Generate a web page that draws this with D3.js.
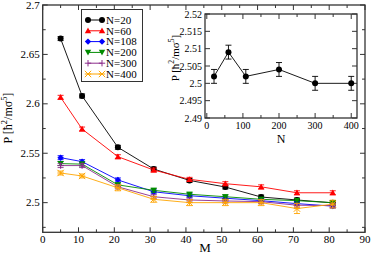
<!doctype html>
<html>
<head>
<meta charset="utf-8"/>
<title>P vs M</title>
<script src="https://d3js.org/d3.v7.min.js"></script>
<style>
body{margin:0;background:#fff;}
text{font-family:"Liberation Serif","DejaVu Serif",serif;}
</style>
</head>
<body>
<script>
// data
var mVals = [5, 11, 21, 31, 41, 51, 61, 71, 81];
var n20  = [2.666, 2.608, 2.556, 2.534, 2.5225, 2.5158, 2.5057, 2.5027, 2.4998];
var n60  = [2.6066, 2.5745, 2.5465, 2.5330, 2.5236, 2.5192, 2.5160, 2.5100, 2.5100];
var n108 = [2.5455, 2.5415, 2.5230, 2.5110, 2.5070, 2.5045, 2.5020, 2.4990, 2.4965];
var n200 = [2.5395, 2.5390, 2.5180, 2.5125, 2.5085, 2.5060, 2.5034, 2.5020, 2.5000];
var n300 = [2.5375, 2.5375, 2.5160, 2.5060, 2.5027, 2.5017, 2.5010, 2.4974, 2.4970];
var n400 = [2.5300, 2.5270, 2.5150, 2.5034, 2.5000, 2.5000, 2.5000, 2.4940, 2.4985];
var errMain = [0.002, 0.002, 0.002, 0.002, 0.002, 0.002, 0.002, 0.002, 0.002];
var err400  = [0.002, 0.002, 0.003, 0.003, 0.003, 0.003, 0.003, 0.005, 0.004];

var nVals  = [20, 60, 108, 200, 300, 400];
var pInset = [2.502, 2.509, 2.502, 2.504, 2.500, 2.500];
var errInset = [0.002, 0.002, 0.002, 0.002, 0.002, 0.002];

var series = [
  {name: "N=20",  vals: n20,  err: errMain, color: "#000000", sym: "circle"},
  {name: "N=60",  vals: n60,  err: errMain, color: "#ff0000", sym: "triup"},
  {name: "N=108", vals: n108, err: errMain, color: "#0000ff", sym: "diamond"},
  {name: "N=200", vals: n200, err: errMain, color: "#008b00", sym: "tridown"},
  {name: "N=300", vals: n300, err: errMain, color: "#8b2d8b", sym: "plus"},
  {name: "N=400", vals: n400, err: err400,  color: "#ffa500", sym: "x"}
];

var svg = d3.select("body").append("svg")
  .attr("width", 374).attr("height", 257);

var x = d3.scaleLinear().domain([0, 90]).range([42.7, 365]);
var y = d3.scaleLinear().domain([2.47, 2.7]).range([232.3, 5]);

function symbol(g, type, cx, cy, col) {
  var s = 3.2;
  if (type == "circle") {
    g.append("circle").attr("cx", cx).attr("cy", cy).attr("r", 3).attr("fill", col);
  } else if (type == "triup") {
    g.append("path").attr("d", "M" + cx + "," + (cy - s) + "L" + (cx + s) + "," + (cy + s * 0.8) + "L" + (cx - s) + "," + (cy + s * 0.8) + "Z").attr("fill", col);
  } else if (type == "tridown") {
    g.append("path").attr("d", "M" + cx + "," + (cy + s) + "L" + (cx + s) + "," + (cy - s * 0.8) + "L" + (cx - s) + "," + (cy - s * 0.8) + "Z").attr("fill", col);
  } else if (type == "diamond") {
    g.append("path").attr("d", "M" + cx + "," + (cy - s) + "L" + (cx + s) + "," + cy + "L" + cx + "," + (cy + s) + "L" + (cx - s) + "," + cy + "Z").attr("fill", col);
  } else if (type == "plus") {
    g.append("path").attr("d", "M" + (cx - s) + "," + cy + "H" + (cx + s) + "M" + cx + "," + (cy - s) + "V" + (cy + s)).attr("stroke", col).attr("stroke-width", 1);
  } else {
    g.append("path").attr("d", "M" + (cx - s) + "," + (cy - s) + "L" + (cx + s) + "," + (cy + s) + "M" + (cx + s) + "," + (cy - s) + "L" + (cx - s) + "," + (cy + s) + "M" + (cx - s) + "," + cy + "H" + (cx + s)).attr("stroke", col).attr("stroke-width", 1);
  }
}

function frame(xs, ys, xMaj, xMin, yMaj, yMin, xFmt, yFmt, fs) {
  var g = svg.append("g");
  var x0 = xs.range()[0], x1 = xs.range()[1], y0 = ys.range()[0], y1 = ys.range()[1];
  g.append("rect").attr("x", x0).attr("y", y1).attr("width", x1 - x0).attr("height", y0 - y1)
    .attr("fill", "none").attr("stroke", "#333").attr("stroke-width", 1.3);
  xMaj.forEach(function(v) {
    g.append("line").attr("x1", xs(v)).attr("x2", xs(v)).attr("y1", y0).attr("y2", y0 - 5).attr("stroke", "#333");
    g.append("line").attr("x1", xs(v)).attr("x2", xs(v)).attr("y1", y1).attr("y2", y1 + 5).attr("stroke", "#333");
    g.append("text").attr("x", xs(v)).attr("y", y0 + 11).attr("text-anchor", "middle").attr("font-size", fs).text(xFmt(v));
  });
  xMin.forEach(function(v) {
    g.append("line").attr("x1", xs(v)).attr("x2", xs(v)).attr("y1", y0).attr("y2", y0 - 3).attr("stroke", "#333");
    g.append("line").attr("x1", xs(v)).attr("x2", xs(v)).attr("y1", y1).attr("y2", y1 + 3).attr("stroke", "#333");
  });
  yMaj.forEach(function(v) {
    g.append("line").attr("x1", x0).attr("x2", x0 + 5).attr("y1", ys(v)).attr("y2", ys(v)).attr("stroke", "#333");
    g.append("line").attr("x1", x1).attr("x2", x1 - 5).attr("y1", ys(v)).attr("y2", ys(v)).attr("stroke", "#333");
    g.append("text").attr("x", x0 - 3).attr("y", ys(v) + 3.5).attr("text-anchor", "end").attr("font-size", fs).text(yFmt(v));
  });
  yMin.forEach(function(v) {
    g.append("line").attr("x1", x0).attr("x2", x0 + 3).attr("y1", ys(v)).attr("y2", ys(v)).attr("stroke", "#333");
    g.append("line").attr("x1", x1).attr("x2", x1 - 3).attr("y1", ys(v)).attr("y2", ys(v)).attr("stroke", "#333");
  });
}

function fmt(v) { return String(+v.toFixed(3)); }

frame(x, y, d3.range(0, 91, 10), d3.range(5, 90, 10),
  d3.range(2.5, 2.701, 0.05), [2.475, 2.525, 2.575, 2.625, 2.675], fmt, fmt, 11);

function plotSeries(xs, ys, xv, vals, err, col, sym) {
  var g = svg.append("g");
  var line = d3.line().x(function(d, i) { return xs(xv[i]); }).y(function(d) { return ys(d); });
  g.append("path").attr("d", line(vals)).attr("fill", "none").attr("stroke", col).attr("stroke-width", 0.9);
  vals.forEach(function(v, i) {
    var cx = xs(xv[i]), lo = ys(v - err[i]), hi = ys(v + err[i]);
    g.append("path").attr("d", "M" + cx + "," + lo + "V" + hi + "M" + (cx - 3) + "," + lo + "H" + (cx + 3) + "M" + (cx - 3) + "," + hi + "H" + (cx + 3))
      .attr("stroke", col).attr("stroke-width", 0.9).attr("fill", "none");
    symbol(g, sym, cx, ys(v), col);
  });
}

series.forEach(function(s) { plotSeries(x, y, mVals, s.vals, s.err, s.color, s.sym); });

// axis titles
function pLabel(g, tx, ty, fs) {
  var t = g.append("text").attr("transform", "translate(" + tx + "," + ty + ") rotate(-90)")
    .attr("text-anchor", "middle").attr("font-size", fs);
  t.append("tspan").text("P [ħ");
  t.append("tspan").attr("dy", -5).attr("font-size", fs * 0.7).text("2");
  t.append("tspan").attr("dy", 5).text("/mσ");
  t.append("tspan").attr("dy", -5).attr("font-size", fs * 0.7).text("5");
  t.append("tspan").attr("dy", 5).text("]");
}
pLabel(svg, 12, 118, 12);
svg.append("text").attr("x", 205).attr("y", 252).attr("text-anchor", "middle").attr("font-size", 13).text("M");

// legend
var leg = svg.append("g");
leg.append("rect").attr("x", 81.5).attr("y", 9.5).attr("width", 61).attr("height", 72)
  .attr("fill", "#fff").attr("stroke", "#333").attr("stroke-width", 1);
series.forEach(function(s, i) {
  var ly = 20 + i * 10.8;
  leg.append("line").attr("x1", 88).attr("x2", 102).attr("y1", ly).attr("y2", ly).attr("stroke", s.color);
  symbol(leg, s.sym, 88, ly, s.color);
  symbol(leg, s.sym, 102, ly, s.color);
  leg.append("text").attr("x", 106).attr("y", ly + 3.8).attr("font-size", 11).text(s.name);
});

// inset
var xi = d3.scaleLinear().domain([-5, 416]).range([205, 357]);
var yi = d3.scaleLinear().domain([2.49, 2.52]).range([118, 14]);
svg.append("rect").attr("x", 205).attr("y", 14).attr("width", 152).attr("height", 104).attr("fill", "#fff");
frame(xi, yi, d3.range(0, 401, 100), d3.range(50, 401, 100),
  d3.range(2.49, 2.5201, 0.005), [], fmt, fmt, 10);
plotSeries(xi, yi, nVals, pInset, errInset, "#000", "circle");
pLabel(svg, 179, 58, 11);
svg.append("text").attr("x", 281).attr("y", 143).attr("text-anchor", "middle").attr("font-size", 12).text("N");
</script>
</body>
</html>
